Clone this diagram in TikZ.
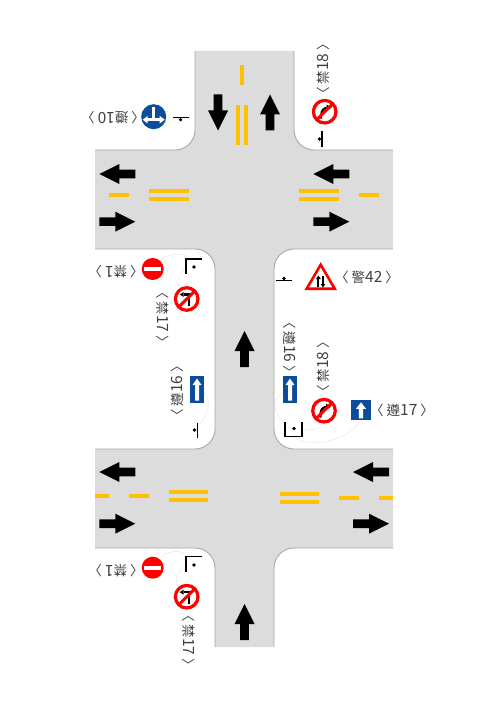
\documentclass[tikz,border=0pt]{standalone}
\usepackage{fontspec}
\newfontfamily\cjk{Noto Sans CJK TC}
\definecolor{roadgray}{HTML}{DCDCDC}
\definecolor{curbgray}{HTML}{A8A8A8}
\definecolor{lanegold}{HTML}{FFC000}
\definecolor{signred}{HTML}{FF0000}
\definecolor{signblue}{HTML}{0B4C9C}
\definecolor{labelgray}{HTML}{404040}
\definecolor{faint}{HTML}{E8E8E8}
\newcommand{\lb}[2]{〈\kern3pt #1{\fontsize{15.5}{15.5}\selectfont #2}\kern3pt〉}
\tikzset{
  curb/.style={draw=curbgray,line width=0.9pt},
  goldline/.style={fill=lanegold,draw=none},
  signlabel/.style={font=\cjk\fontsize{13.5}{13.5}\selectfont,text=labelgray,inner sep=0pt},
  pole/.style={draw=black,line width=1.25pt},
  leader/.style={draw=faint,line width=0.5pt},
  roadarrow/.pic={\fill[black] (0,-18)--(10,2)--(4.3,2)--(4.3,18)--(-4.3,18)--(-4.3,2)--(-10,2)--cycle;},
  noentry/.pic={\fill[signred] (0,0) circle (11);\fill[white] (-8.5,-2) rectangle (8.5,2);},
  noright/.pic={
    \fill[white] (0,0) circle (12);
    \draw[black,line width=2pt] (-3.5,7)--(-3.5,3) .. controls (-3.5,-1) and (-1,-4) .. (3,-4);
    \fill[black] (2,-7)--(7,-4)--(2,-1)--cycle;
    \draw[signred,line width=3.2pt] (0,0) circle (11.3);
    \draw[signred,line width=3pt] (-8.5,8.5)--(8.5,-8.5);},
  noleft/.pic={
    \fill[white] (0,0) circle (12);
    \draw[black,line width=2.2pt] (2.5,7)--(2.5,-4.5)--(-3,-4.5);
    \fill[black] (-3,-7)--(-7,-4.5)--(-3,-2)--cycle;
    \draw[signred,line width=3.2pt] (0,0) circle (11.3);
    \draw[signred,line width=3pt] (-8.5,8.5)--(8.5,-8.5);},
  oneway/.pic={
    \fill[signblue] (-7,-13.7) rectangle (7,13.7);
    \fill[white] (0,-11)--(4.5,-4.5)--(2,-4.5)--(2,11)--(-2,11)--(-2,-4.5)--(-4.5,-4.5)--cycle;},
  onewaysq/.pic={
    \fill[signblue] (-10,-10) rectangle (10,10);
    \fill[white] (0,-8)--(5,-1.5)--(2.2,-1.5)--(2.2,8)--(-2.2,8)--(-2.2,-1.5)--(-5,-1.5)--cycle;},
  keepsides/.pic={
    \fill[signblue] (0,0) circle (12.5);
    \draw[white,line width=3pt] (0,-10)--(0,3);
    \draw[white,line width=2.4pt] (-7,3)--(7,3);
    \fill[white] (-11,3)--(-6,-0.8)--(-6,6.8)--cycle;
    \fill[white] (11,3)--(6,-0.8)--(6,6.8)--cycle;},
}
\begin{document}
\begin{tikzpicture}[x=1pt,y=-1pt]
\useasboundingbox (0,0) rectangle (500,708);
% road surface
\fill[roadgray] (195,51)--(294,51)--(294,130) .. controls (294,141) and (303,150) .. (314,150)--(393,150)--(393,249)
  --(294,249) .. controls (283,249) and (274,258) .. (274,269)--(274,429) .. controls (274,440) and (283,449) .. (294,449)
  --(393,449)--(393,548)--(294,548) .. controls (283,548) and (274,557) .. (274,568)--(274,647)--(215,647)--(215,568)
  .. controls (215,557) and (206,548) .. (195,548)--(95,548)--(95,449)--(195,449) .. controls (206,449) and (215,440) .. (215,429)
  --(215,269) .. controls (215,258) and (206,249) .. (195,249)--(95,249)--(95,150)--(175,150)
  .. controls (186,150) and (195,141) .. (195,130)--cycle;
% curbs
\draw[curb] (195,51)--(195,130) .. controls (195,141) and (186,150) .. (175,150)--(95,150);
\draw[curb] (294,51)--(294,130) .. controls (294,141) and (303,150) .. (314,150)--(393,150);
\draw[curb] (95,249)--(195,249) .. controls (206,249) and (215,258) .. (215,269)--(215,429) .. controls (215,440) and (206,449) .. (195,449)--(95,449);
\draw[curb] (393,249)--(294,249) .. controls (283,249) and (274,258) .. (274,269)--(274,429) .. controls (274,440) and (283,449) .. (294,449)--(393,449);
\draw[curb] (95,548)--(195,548) .. controls (206,548) and (215,557) .. (215,568)--(215,647);
\draw[curb] (393,548)--(294,548) .. controls (283,548) and (274,557) .. (274,568)--(274,647);
% lane markings
\fill[goldline] (240,65) rectangle (244,85);
\fill[goldline] (236,105) rectangle (240,145);
\fill[goldline] (244,105) rectangle (248,145);
\fill[goldline] (109,193) rectangle (129,197);
\fill[goldline] (149,189) rectangle (189,193);
\fill[goldline] (149,197) rectangle (189,201);
\fill[goldline] (299,189) rectangle (339,193);
\fill[goldline] (299,197) rectangle (339,201);
\fill[goldline] (359,193) rectangle (379,197);
\fill[goldline] (95,494) rectangle (109,498);
\fill[goldline] (129,494) rectangle (149,498);
\fill[goldline] (169,490) rectangle (208,494);
\fill[goldline] (169,498) rectangle (208,502);
\fill[goldline] (280,492) rectangle (319,496);
\fill[goldline] (280,500) rectangle (319,504);
\fill[goldline] (339,496) rectangle (359,500);
\fill[goldline] (379,496) rectangle (393,500);
% road arrows
\pic[rotate=180] at (218,112.5) {roadarrow};
\pic at (270,112.5) {roadarrow};
\pic[rotate=90] at (117.3,174) {roadarrow};
\pic[rotate=-90] at (117.3,221.7) {roadarrow};
\pic[rotate=90] at (331.3,174) {roadarrow};
\pic[rotate=-90] at (331.3,221.7) {roadarrow};
\pic at (244.5,349) {roadarrow};
\pic[rotate=90] at (117.3,472) {roadarrow};
\pic[rotate=-90] at (117.3,523.7) {roadarrow};
\pic[rotate=90] at (371,472) {roadarrow};
\pic[rotate=-90] at (371,523.7) {roadarrow};
\pic at (244.5,622) {roadarrow};
% faint leader arcs
\draw[leader] (285,424) .. controls (272,412) and (272,398) .. (283,392);
\draw[leader] (302,429) .. controls (316,431) and (322,428) .. (324,423);
\draw[leader] (294,437) .. controls (305,447) and (345,445) .. (361,420);
\draw[leader] (186,268) .. controls (178,273) and (176,284) .. (180,288);
\draw[leader] (191,259) .. controls (184,252) and (170,253) .. (160,260);
\draw[leader] (204,392) .. controls (211,400) and (210,415) .. (199,424);
\draw[leader] (190,559) .. controls (184,549) and (170,549) .. (160,558);
\draw[leader] (186,566) .. controls (177,570) and (173,582) .. (179,587);
% poles
\draw[pole] (173,117.7)--(189,117.7);
\fill (180.5,119.7) circle (1.8);
\draw[pole] (322,131)--(322,147);
\fill (319.5,139) circle (1.8);
\draw[pole] (201.7,259)--(186,259)--(186,274);
\fill (194,267) circle (1.8);
\draw[pole] (197.5,422.7)--(197.5,437.7);
\fill (194.5,430) circle (1.8);
\draw[pole] (276,280.7)--(292,280.7);
\fill (284,278.5) circle (1.8);
\draw[pole] (285,421.7)--(285,436.7)--(302,436.7)--(302,421.7);
\fill (294,428.5) circle (1.8);
\draw[pole] (201.7,556.7)--(186,556.7)--(186,571.7);
\fill (194,565) circle (1.8);
% signs
\pic at (153.7,116.7) {keepsides};
\pic at (324.7,111.7) {noright};
\pic at (152.7,269) {noentry};
\pic at (186.7,299) {noleft};
\pic at (197,389.5) {oneway};
\pic at (290,389.5) {oneway};
\pic at (324,410.7) {noright};
\pic at (361,410.3) {onewaysq};
\pic at (152.7,567.7) {noentry};
\pic at (186.7,596.7) {noleft};
\draw[signred,fill=white,line width=2.6pt,line join=miter] (320.7,264.7)--(334.7,288.7)--(306.7,288.7)--cycle;
\draw[black,line width=2pt] (318.4,287)--(318.4,278);
\fill[black] (316,279)--(318.4,275.5)--(320.8,279)--cycle;
\draw[black,line width=2pt] (323,276)--(323,284.5);
\fill[black] (320.6,284)--(323,287.5)--(325.4,284)--cycle;
% labels
\node[signlabel,rotate=180] (t10) at (113,118) {\lb{遵}{10}};
\node[signlabel,rotate=90] (t18a) at (323,69) {\lb{禁}{18}};
\node[signlabel,rotate=180] (t1a) at (116,271.5) {\lb{禁}{1}};
\node[signlabel,rotate=-90] (t17a) at (163,317) {\lb{禁}{17}};
\node[signlabel,rotate=90] (t16a) at (177,391) {\lb{遵}{16}};
\node[signlabel] (t42) at (367,277.7) {\lb{警}{42}};
\node[signlabel,rotate=-90] (t16b) at (290,347) {\lb{遵}{16}};
\node[signlabel,rotate=90] (t18b) at (323,367) {\lb{禁}{18}};
\node[signlabel] (t17) at (402,410) {\lb{遵}{17}};
\node[signlabel,rotate=180] (t1b) at (116,570.5) {\lb{禁}{1}};
\node[signlabel,rotate=-90] (t17b) at (189,640) {\lb{禁}{17}};
\end{tikzpicture}
\end{document}
